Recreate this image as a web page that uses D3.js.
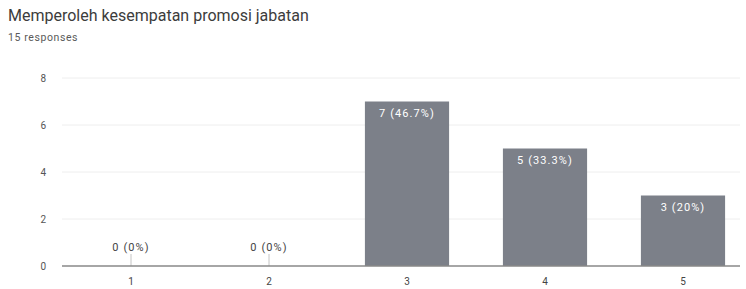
<!DOCTYPE html>
<html>
<head>
<meta charset="utf-8">
<script src="https://cdn.jsdelivr.net/npm/d3@7"></script>
<style>
  body { margin: 0; background: #fff; }
  svg { display: block; font-family: Roboto, "Liberation Sans", Arial, sans-serif; }
</style>
</head>
<body>
<svg id="chart" width="746" height="289"></svg>
<script>
// data
var categories = ["1", "2", "3", "4", "5"];
var counts = [0, 0, 7, 5, 3];
var percents = ["0%", "0%", "46.7%", "33.3%", "20%"];
var yTicks = [0, 2, 4, 6, 8];

var svg = d3.select("#chart");
const padding = { top: 78, bottom: 266, left: 62, right: 740 };

// titles
svg.append("text")
  .attr("x", 8).attr("y", 21)
  .attr("font-size", 16)
  .attr("fill", "#3c3c3c")
  .text("Memperoleh kesempatan promosi jabatan");

svg.append("text")
  .attr("x", 8).attr("y", 41)
  .attr("font-size", 10.5)
  .attr("letter-spacing", 0.6)
  .attr("fill", "#5a5a5a")
  .text("15 responses");

// scales
var x = d3.scaleBand()
  .domain(categories)
  .range([62, 752])
  .paddingInner(0.39)
  .paddingOuter(0.195);

var y = d3.scaleLinear()
  .domain([0, 8])
  .range([padding.bottom, padding.top]);

// gridlines
svg.append("g").selectAll("line")
  .data(yTicks.filter(d => d > 0))
  .enter().append("line")
  .attr("x1", padding.left).attr("x2", padding.right)
  .attr("y1", d => y(d)).attr("y2", d => y(d))
  .attr("stroke", "#eeeeee").attr("stroke-width", 1);

// y labels
svg.append("g").selectAll("text")
  .data(yTicks)
  .enter().append("text")
  .attr("x", 46).attr("y", d => y(d) + 3.5)
  .attr("text-anchor", "end")
  .attr("font-size", 10)
  .attr("fill", "#555")
  .text(d => d);

// bars
svg.append("g").selectAll("rect")
  .data(counts)
  .enter().append("rect")
  .attr("x", (_, i) => x(categories[i]))
  .attr("y", d => y(d))
  .attr("width", x.bandwidth())
  .attr("height", d => y(0) - y(d))
  .attr("fill", "#7c8089");

// small ticks for empty bars
svg.append("g").selectAll("line")
  .data(counts.map((d, i) => ({ d, c: categories[i] })).filter(e => e.d === 0))
  .enter().append("line")
  .attr("x1", e => x(e.c) + x.bandwidth() / 2)
  .attr("x2", e => x(e.c) + x.bandwidth() / 2)
  .attr("y1", y(0) - 12).attr("y2", y(0))
  .attr("stroke", "#c4c4c4");

// value labels
svg.append("g").selectAll("text")
  .data(counts)
  .enter().append("text")
  .attr("x", (_, i) => x(categories[i]) + x.bandwidth() / 2)
  .attr("y", d => d === 0 ? y(0) - 15 : y(d) + 15)
  .attr("text-anchor", "middle")
  .attr("font-size", 11)
  .attr("letter-spacing", 1.1)
  .attr("fill", d => d === 0 ? "#444" : "#fff")
  .text((d, i) => `${d} (${percents[i]})`);

// baseline
svg.append("line")
  .attr("x1", padding.left).attr("x2", padding.right)
  .attr("y1", y(0)).attr("y2", y(0))
  .attr("stroke", "#888").attr("stroke-width", 1.5);

// x labels
svg.append("g").selectAll("text")
  .data(categories)
  .enter().append("text")
  .attr("x", d => x(d) + x.bandwidth() / 2)
  .attr("y", 285)
  .attr("text-anchor", "middle")
  .attr("font-size", 10)
  .attr("fill", "#444")
  .text(d => d);
</script>
</body>
</html>
